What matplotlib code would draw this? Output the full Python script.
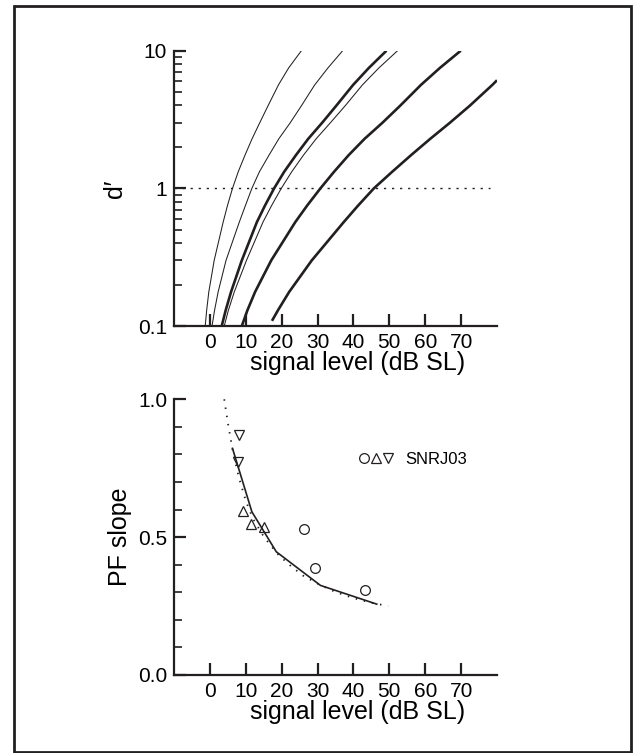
import numpy as np
import matplotlib.pyplot as plt
from matplotlib.patches import Rectangle
from matplotlib.legend_handler import HandlerTuple
from matplotlib.ticker import FixedLocator, NullFormatter

plt.rcParams['font.family'] = ['Liberation Sans', 'DejaVu Sans']

# d' vs signal level, one curve per condition (level in dB SL, d')
dp   = [0.1, 0.13, 0.177, 0.3, 0.569, 0.75, 1.0, 1.32, 1.747, 2.29, 3.0, 3.98, 5.64, 7.5, 10.0]
lev1 = [-1.3, -0.9, -0.3, 1.2, 3.7, 4.9, 6.3, 7.9, 9.8, 11.75, 13.9, 16.2, 19.1, 21.95, 25.5]
lev2 = [0.6, 1.3, 2.3, 4.5, 8.2, 9.9, 11.7, 13.8, 16.5, 19.2, 22.4, 25.5, 29.2, 32.9, 37.0]
lev3 = [3.3, 4.4, 5.9, 8.9, 13.1, 15.35, 17.9, 20.7, 24.0, 27.4, 31.3, 35.2, 39.9, 44.3, 49.2]
lev4 = [4.0, 5.15, 6.8, 10.2, 14.8, 17.2, 19.9, 22.8, 26.1, 29.6, 33.6, 37.7, 42.5, 47.1, 52.3]
lev5 = [8.9, 10.45, 12.6, 17.1, 23.8, 27.1, 30.8, 34.6, 38.7, 43.1, 48.1, 53.0, 58.8, 64.1, 69.9]
dp6  = [0.109, 0.13, 0.177, 0.3, 0.569, 0.75, 1.0, 1.32, 1.747, 2.29, 3.0, 3.98, 5.64, 6.1]
lev6 = [17.3, 18.96, 22.1, 28.4, 37.3, 41.3, 45.7, 50.8, 56.1, 61.4, 66.9, 72.4, 78.7, 80.0]

curves = [(lev1, dp, 0.75), (lev2, dp, 0.75), (lev3, dp, 1.9),
          (lev4, dp, 0.75), (lev5, dp, 1.9), (lev6, dp6, 1.9)]

# PF slope data
up_lev   = [9.1, 11.5, 15.0]
up_slope = [0.596, 0.548, 0.538]
dn_lev   = [8.2, 7.7]
dn_slope = [0.869, 0.773]
ci_lev   = [26.3, 29.4, 43.1]
ci_slope = [0.528, 0.389, 0.308]

# model PF slope, at the d'=1 levels
mod_lev   = [6.3, 11.7, 18.5, 30.8, 46.5]
mod_slope = [0.822, 0.592, 0.447, 0.325, 0.257]

# smooth fit (dotted)
fit_lev   = [4.0, 5.0, 6.3, 8.0, 10.0, 12.0, 15.0, 18.7, 22.0, 26.0, 30.8, 35.0, 40.0, 45.0, 49.7]
fit_slope = [1.0, 0.915, 0.818, 0.72, 0.632, 0.567, 0.502, 0.441, 0.401, 0.36, 0.326, 0.301, 0.279, 0.262, 0.25]

xt = [0, 10, 20, 30, 40, 50, 60, 70]

fig = plt.figure(figsize=(6.35, 7.53), dpi=100)
fig.patches.append(Rectangle((14/635, 1-752/753), 617/635, 746/753,
                             transform=fig.transFigure, fill=False,
                             edgecolor='#231f20', linewidth=2.0))

ax1 = fig.add_axes([174/635, 1-326/753, 323/635, 275.3/753])
ax2 = fig.add_axes([174/635, 1-675/753, 323/635, 275.7/753])

for lv, d, lw in curves:
    ax1.plot(lv, d, color='#231f20', lw=lw, solid_capstyle='butt', solid_joinstyle='round')
ax1.plot([-10, 78], [1, 1], color='#231f20', lw=1.0, dashes=(1.6, 4.2))
ax1.set_yscale('log')
ax1.set_ylim(0.1, 10)
ax1.set_yticks([0.1, 1, 10])
ax1.set_yticklabels(['0.1', '1', '10'])
ax1.yaxis.set_minor_locator(FixedLocator([m * d for d in (0.1, 1) for m in range(2, 10)]))
ax1.yaxis.set_minor_formatter(NullFormatter())
ax1.set_ylabel('d\u2032', fontsize=18, labelpad=8)

ax2.plot(fit_lev, fit_slope, color='#231f20', lw=1.3, dashes=(0.8, 3.8))
ax2.plot(mod_lev, mod_slope, color='#231f20', lw=1.2)
mk = dict(ms=7, mfc='none', mec='#231f20', mew=0.9, ls='none')
h1, = ax2.plot(ci_lev, ci_slope, marker='o', **mk)
h2, = ax2.plot(up_lev, up_slope, marker='^', **mk)
h3, = ax2.plot(dn_lev, dn_slope, marker='v', **mk)
ax2.legend([(h1, h2, h3)], ['SNRJ03'], handler_map={tuple: HandlerTuple(ndivide=None, pad=0.0)},
           loc='center left', bbox_to_anchor=(0.548, 0.783), frameon=False, fontsize=12,
           handlelength=2.2, handletextpad=0.65, borderaxespad=0)
ax2.set_ylim(0, 1.0)
ax2.set_yticks([0.0, 0.5, 1.0])
ax2.set_yticklabels(['0.0', '0.5', '1.0'])
ax2.yaxis.set_minor_locator(FixedLocator([0.1, 0.2, 0.3, 0.4, 0.6, 0.7, 0.8, 0.9]))
ax2.set_ylabel('PF slope', fontsize=18, labelpad=4)

for ax in (ax1, ax2):
    ax.set_xlim(-10, 80)
    ax.set_xticks(xt)
    ax.set_xticklabels([str(v) for v in xt])
    ax.set_xlabel('signal level (dB SL)', fontsize=18)
    ax.xaxis.set_label_coords(0.567, -0.092)
    for s in ('top', 'right'):
        ax.spines[s].set_visible(False)
    for s in ('left', 'bottom'):
        ax.spines[s].set_linewidth(1.6)
        ax.spines[s].set_color('#231f20')
    ax.tick_params(which='major', direction='in', length=8.5, width=1.6,
                   labelsize=15, color='#231f20', pad=5)
    ax.tick_params(axis='y', which='minor', direction='in', length=5.5, width=1.2, color='#231f20')
    ax.tick_params(axis='x', which='minor', length=0)

fig.savefig('out.png', dpi=100)
